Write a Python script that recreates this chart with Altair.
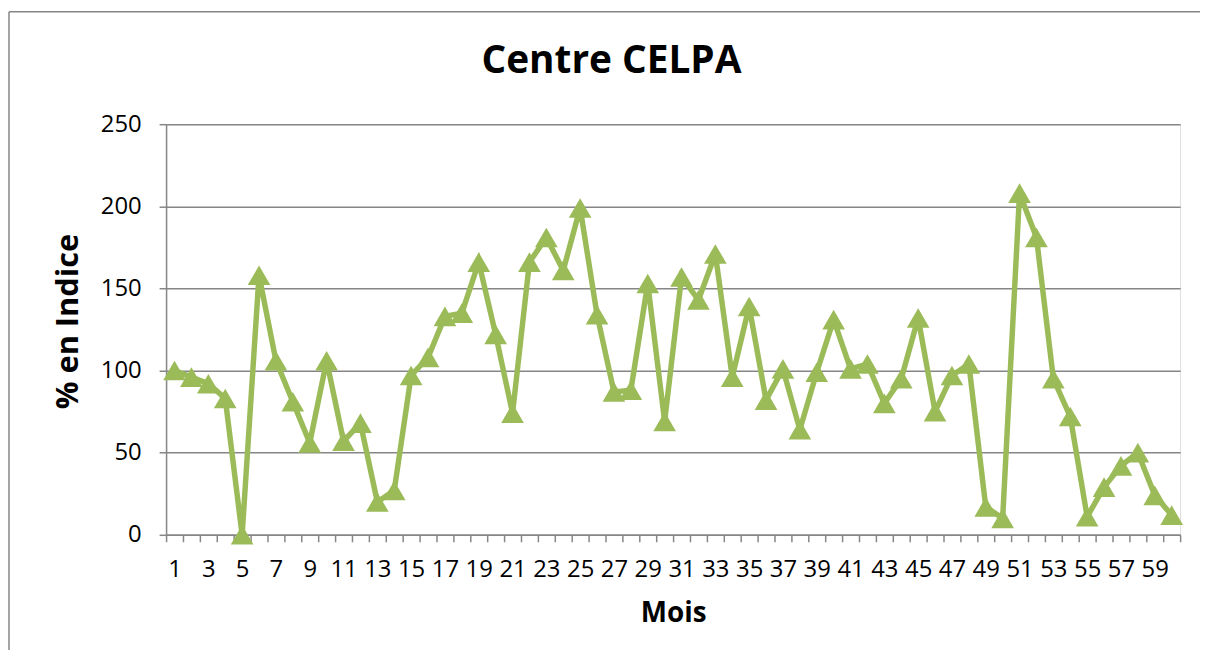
import altair as alt
import pandas as pd

mois = list(range(1, 61))
indice = [100, 96, 92, 83, 0, 158, 106, 81, 56, 106,
          57, 68, 20, 27, 97, 108, 133, 135, 166, 122,
          74, 166, 181, 161, 199, 134, 87, 88, 153, 69,
          157, 143, 171, 96, 139, 82, 101, 64, 99, 131,
          101, 104, 80, 95, 132, 75, 97, 104, 17, 10,
          208, 181, 95, 72, 11, 29, 42, 50, 24, 12]
y_ticks = [0, 50, 100, 150, 200, 250]

df = pd.DataFrame({"Mois": mois, "Indice": indice})

GREEN = "#9BBB59"
GRAY = "#868686"
FONT = "Open Sans"

x_enc = alt.X(
    "Mois:O",
    bandPosition=0.5,
    scale=alt.Scale(type="band", paddingInner=0, paddingOuter=0),
    axis=alt.Axis(
        title="Mois",
        titleFont=FONT, titleFontSize=28, titleFontWeight="bold", titleColor="#000000",
        titleX=510, titleY=87, titleBaseline="alphabetic", titleAlign="center",
        labelFont=FONT, labelFontSize=24, labelColor="#000000",
        labelAngle=0, labelOverlap=False, labelBaseline="alphabetic", labelPadding=35,
        labelExpr="datum.value % 2 == 1 ? datum.label : ''",
        tickBand="extent", tickSize=7, tickColor=GRAY, tickWidth=1.5,
        domainColor=GRAY, domainWidth=1.5, grid=False,
    ),
)

y_enc = alt.Y(
    "Indice:Q",
    scale=alt.Scale(domain=[0, 250], nice=False),
    axis=alt.Axis(
        values=y_ticks,
        title="% en Indice",
        titleFont=FONT, titleFontSize=31, titleFontWeight="bold", titleColor="#000000",
        titleX=-98, titleY=198, titleBaseline="middle", titleAlign="center", titleAngle=-90,
        labelFont=FONT, labelFontSize=24, labelColor="#000000", labelPadding=18,
        tickSize=7, tickColor=GRAY, tickWidth=1.5,
        domainColor=GRAY, domainWidth=1.5,
        grid=True, gridColor=GRAY, gridWidth=1.5,
    ),
)

line = alt.Chart(df).mark_line(
    color=GREEN, strokeWidth=5.5, strokeJoin="miter",
    point=alt.OverlayMarkDef(shape="triangle-up", size=520, filled=True, color=GREEN, opacity=1),
).encode(x=x_enc, y=y_enc)

one = alt.Data(values=[{"a": 1}])
frame_left = alt.Chart(one).mark_rule(stroke=GRAY, strokeWidth=1.5).encode(
    x=alt.value(-158), y=alt.value(-113), y2=alt.value(600)
)
frame_top = alt.Chart(one).mark_rule(stroke=GRAY, strokeWidth=1.5).encode(
    x=alt.value(-158), x2=alt.value(1100), y=alt.value(-113)
)

chart = alt.layer(frame_left, frame_top, line).properties(
    width=1020,
    height=413,
    autosize=alt.AutoSizeParams(type="none"),
    padding={"left": 159, "top": 115, "right": 20, "bottom": 114},
    title=alt.Title(
        "Centre CELPA", font=FONT, fontSize=39, fontWeight="bold", color="#000000",
        anchor="middle", dx=-62, offset=-101, baseline="alphabetic",
    ),
).configure_view(stroke=None).configure(background="white")

chart.save("out.html", embed_options={"renderer": "svg", "actions": False})
